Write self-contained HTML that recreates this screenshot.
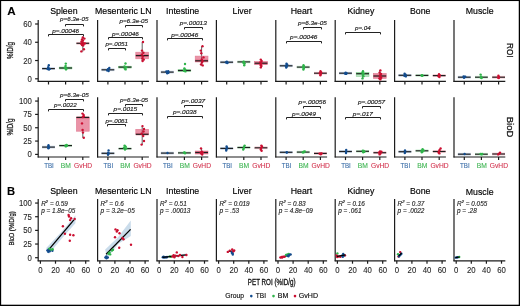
<!DOCTYPE html>
<html><head><meta charset="utf-8"><title>Figure</title>
<style>
html,body{margin:0;padding:0;background:#fff;}
body{width:520px;height:306px;overflow:hidden;}
svg{display:block;will-change:transform;font-family:"Liberation Sans", sans-serif;}
</style></head>
<body>
<svg width="520" height="306" viewBox="0 0 520 306">
<rect x="0" y="0" width="520" height="306" fill="#fff"/>
<rect x="0" y="0" width="520" height="1.05" fill="#000"/>
<rect x="0" y="0" width="1.15" height="306" fill="#000"/>
<rect x="518.75" y="0" width="1.25" height="306" fill="#000"/>
<rect x="0" y="304.7" width="520" height="1.3" fill="#000"/>
<text transform="translate(7.20,14.80) scale(1.04,1)" font-size="11.2" fill="#000" stroke="#000" stroke-width="0.1" text-anchor="start" font-weight="bold" >A</text>
<text transform="translate(7.00,195.20) scale(1.0,1)" font-size="11.2" fill="#000" stroke="#000" stroke-width="0.1" text-anchor="start" font-weight="bold" >B</text>
<text transform="translate(63.85,13.90) scale(0.905,1)" font-size="9.7" fill="#000" stroke="#000" stroke-width="0.17" text-anchor="middle" font-weight="normal" >Spleen</text>
<text transform="translate(63.85,194.30) scale(0.905,1)" font-size="9.7" fill="#000" stroke="#000" stroke-width="0.17" text-anchor="middle" font-weight="normal" >Spleen</text>
<text transform="translate(123.25,13.90) scale(0.905,1)" font-size="9.7" fill="#000" stroke="#000" stroke-width="0.17" text-anchor="middle" font-weight="normal" >Mesenteric LN</text>
<text transform="translate(123.25,194.30) scale(0.905,1)" font-size="9.7" fill="#000" stroke="#000" stroke-width="0.17" text-anchor="middle" font-weight="normal" >Mesenteric LN</text>
<text transform="translate(182.65,13.90) scale(0.905,1)" font-size="9.7" fill="#000" stroke="#000" stroke-width="0.17" text-anchor="middle" font-weight="normal" >Intestine</text>
<text transform="translate(182.65,194.30) scale(0.905,1)" font-size="9.7" fill="#000" stroke="#000" stroke-width="0.17" text-anchor="middle" font-weight="normal" >Intestine</text>
<text transform="translate(242.05,13.90) scale(0.905,1)" font-size="9.7" fill="#000" stroke="#000" stroke-width="0.17" text-anchor="middle" font-weight="normal" >Liver</text>
<text transform="translate(242.05,194.30) scale(0.905,1)" font-size="9.7" fill="#000" stroke="#000" stroke-width="0.17" text-anchor="middle" font-weight="normal" >Liver</text>
<text transform="translate(301.45,13.90) scale(0.905,1)" font-size="9.7" fill="#000" stroke="#000" stroke-width="0.17" text-anchor="middle" font-weight="normal" >Heart</text>
<text transform="translate(301.45,194.30) scale(0.905,1)" font-size="9.7" fill="#000" stroke="#000" stroke-width="0.17" text-anchor="middle" font-weight="normal" >Heart</text>
<text transform="translate(360.85,13.90) scale(0.905,1)" font-size="9.7" fill="#000" stroke="#000" stroke-width="0.17" text-anchor="middle" font-weight="normal" >Kidney</text>
<text transform="translate(360.85,194.30) scale(0.905,1)" font-size="9.7" fill="#000" stroke="#000" stroke-width="0.17" text-anchor="middle" font-weight="normal" >Kidney</text>
<text transform="translate(420.25,13.90) scale(0.905,1)" font-size="9.7" fill="#000" stroke="#000" stroke-width="0.17" text-anchor="middle" font-weight="normal" >Bone</text>
<text transform="translate(420.25,194.30) scale(0.905,1)" font-size="9.7" fill="#000" stroke="#000" stroke-width="0.17" text-anchor="middle" font-weight="normal" >Bone</text>
<text transform="translate(479.65,13.90) scale(0.905,1)" font-size="9.7" fill="#000" stroke="#000" stroke-width="0.17" text-anchor="middle" font-weight="normal" >Muscle</text>
<text transform="translate(479.65,195.30) scale(0.905,1)" font-size="9.7" fill="#000" stroke="#000" stroke-width="0.17" text-anchor="middle" font-weight="normal" >Muscle</text>
<line x1="38.20" y1="20.00" x2="38.20" y2="81.90" stroke="#1c1c1c" stroke-width="1.2" />
<line x1="37.70" y1="81.40" x2="89.50" y2="81.40" stroke="#1c1c1c" stroke-width="1.2" />
<line x1="48.50" y1="81.40" x2="48.50" y2="84.50" stroke="#1c1c1c" stroke-width="1.2" />
<line x1="65.60" y1="81.40" x2="65.60" y2="84.50" stroke="#1c1c1c" stroke-width="1.2" />
<line x1="82.80" y1="81.40" x2="82.80" y2="84.50" stroke="#1c1c1c" stroke-width="1.2" />
<line x1="97.60" y1="20.00" x2="97.60" y2="81.90" stroke="#1c1c1c" stroke-width="1.2" />
<line x1="97.10" y1="81.40" x2="148.90" y2="81.40" stroke="#1c1c1c" stroke-width="1.2" />
<line x1="107.90" y1="81.40" x2="107.90" y2="84.50" stroke="#1c1c1c" stroke-width="1.2" />
<line x1="125.00" y1="81.40" x2="125.00" y2="84.50" stroke="#1c1c1c" stroke-width="1.2" />
<line x1="142.20" y1="81.40" x2="142.20" y2="84.50" stroke="#1c1c1c" stroke-width="1.2" />
<line x1="157.00" y1="20.00" x2="157.00" y2="81.90" stroke="#1c1c1c" stroke-width="1.2" />
<line x1="156.50" y1="81.40" x2="208.30" y2="81.40" stroke="#1c1c1c" stroke-width="1.2" />
<line x1="167.30" y1="81.40" x2="167.30" y2="84.50" stroke="#1c1c1c" stroke-width="1.2" />
<line x1="184.40" y1="81.40" x2="184.40" y2="84.50" stroke="#1c1c1c" stroke-width="1.2" />
<line x1="201.60" y1="81.40" x2="201.60" y2="84.50" stroke="#1c1c1c" stroke-width="1.2" />
<line x1="216.40" y1="20.00" x2="216.40" y2="81.90" stroke="#1c1c1c" stroke-width="1.2" />
<line x1="215.90" y1="81.40" x2="267.70" y2="81.40" stroke="#1c1c1c" stroke-width="1.2" />
<line x1="226.70" y1="81.40" x2="226.70" y2="84.50" stroke="#1c1c1c" stroke-width="1.2" />
<line x1="243.80" y1="81.40" x2="243.80" y2="84.50" stroke="#1c1c1c" stroke-width="1.2" />
<line x1="261.00" y1="81.40" x2="261.00" y2="84.50" stroke="#1c1c1c" stroke-width="1.2" />
<line x1="275.80" y1="20.00" x2="275.80" y2="81.90" stroke="#1c1c1c" stroke-width="1.2" />
<line x1="275.30" y1="81.40" x2="327.10" y2="81.40" stroke="#1c1c1c" stroke-width="1.2" />
<line x1="286.10" y1="81.40" x2="286.10" y2="84.50" stroke="#1c1c1c" stroke-width="1.2" />
<line x1="303.20" y1="81.40" x2="303.20" y2="84.50" stroke="#1c1c1c" stroke-width="1.2" />
<line x1="320.40" y1="81.40" x2="320.40" y2="84.50" stroke="#1c1c1c" stroke-width="1.2" />
<line x1="335.20" y1="20.00" x2="335.20" y2="81.90" stroke="#1c1c1c" stroke-width="1.2" />
<line x1="334.70" y1="81.40" x2="386.50" y2="81.40" stroke="#1c1c1c" stroke-width="1.2" />
<line x1="345.50" y1="81.40" x2="345.50" y2="84.50" stroke="#1c1c1c" stroke-width="1.2" />
<line x1="362.60" y1="81.40" x2="362.60" y2="84.50" stroke="#1c1c1c" stroke-width="1.2" />
<line x1="379.80" y1="81.40" x2="379.80" y2="84.50" stroke="#1c1c1c" stroke-width="1.2" />
<line x1="394.60" y1="20.00" x2="394.60" y2="81.90" stroke="#1c1c1c" stroke-width="1.2" />
<line x1="394.10" y1="81.40" x2="445.90" y2="81.40" stroke="#1c1c1c" stroke-width="1.2" />
<line x1="404.90" y1="81.40" x2="404.90" y2="84.50" stroke="#1c1c1c" stroke-width="1.2" />
<line x1="422.00" y1="81.40" x2="422.00" y2="84.50" stroke="#1c1c1c" stroke-width="1.2" />
<line x1="439.20" y1="81.40" x2="439.20" y2="84.50" stroke="#1c1c1c" stroke-width="1.2" />
<line x1="454.00" y1="20.00" x2="454.00" y2="81.90" stroke="#1c1c1c" stroke-width="1.2" />
<line x1="453.50" y1="81.40" x2="505.30" y2="81.40" stroke="#1c1c1c" stroke-width="1.2" />
<line x1="464.30" y1="81.40" x2="464.30" y2="84.50" stroke="#1c1c1c" stroke-width="1.2" />
<line x1="481.40" y1="81.40" x2="481.40" y2="84.50" stroke="#1c1c1c" stroke-width="1.2" />
<line x1="498.60" y1="81.40" x2="498.60" y2="84.50" stroke="#1c1c1c" stroke-width="1.2" />
<line x1="38.20" y1="97.20" x2="38.20" y2="157.50" stroke="#1c1c1c" stroke-width="1.2" />
<line x1="37.70" y1="157.00" x2="89.50" y2="157.00" stroke="#1c1c1c" stroke-width="1.2" />
<line x1="48.50" y1="157.00" x2="48.50" y2="160.10" stroke="#1c1c1c" stroke-width="1.2" />
<line x1="65.60" y1="157.00" x2="65.60" y2="160.10" stroke="#1c1c1c" stroke-width="1.2" />
<line x1="82.80" y1="157.00" x2="82.80" y2="160.10" stroke="#1c1c1c" stroke-width="1.2" />
<line x1="97.60" y1="97.20" x2="97.60" y2="157.50" stroke="#1c1c1c" stroke-width="1.2" />
<line x1="97.10" y1="157.00" x2="148.90" y2="157.00" stroke="#1c1c1c" stroke-width="1.2" />
<line x1="107.90" y1="157.00" x2="107.90" y2="160.10" stroke="#1c1c1c" stroke-width="1.2" />
<line x1="125.00" y1="157.00" x2="125.00" y2="160.10" stroke="#1c1c1c" stroke-width="1.2" />
<line x1="142.20" y1="157.00" x2="142.20" y2="160.10" stroke="#1c1c1c" stroke-width="1.2" />
<line x1="157.00" y1="97.20" x2="157.00" y2="157.50" stroke="#1c1c1c" stroke-width="1.2" />
<line x1="156.50" y1="157.00" x2="208.30" y2="157.00" stroke="#1c1c1c" stroke-width="1.2" />
<line x1="167.30" y1="157.00" x2="167.30" y2="160.10" stroke="#1c1c1c" stroke-width="1.2" />
<line x1="184.40" y1="157.00" x2="184.40" y2="160.10" stroke="#1c1c1c" stroke-width="1.2" />
<line x1="201.60" y1="157.00" x2="201.60" y2="160.10" stroke="#1c1c1c" stroke-width="1.2" />
<line x1="216.40" y1="97.20" x2="216.40" y2="157.50" stroke="#1c1c1c" stroke-width="1.2" />
<line x1="215.90" y1="157.00" x2="267.70" y2="157.00" stroke="#1c1c1c" stroke-width="1.2" />
<line x1="226.70" y1="157.00" x2="226.70" y2="160.10" stroke="#1c1c1c" stroke-width="1.2" />
<line x1="243.80" y1="157.00" x2="243.80" y2="160.10" stroke="#1c1c1c" stroke-width="1.2" />
<line x1="261.00" y1="157.00" x2="261.00" y2="160.10" stroke="#1c1c1c" stroke-width="1.2" />
<line x1="275.80" y1="97.20" x2="275.80" y2="157.50" stroke="#1c1c1c" stroke-width="1.2" />
<line x1="275.30" y1="157.00" x2="327.10" y2="157.00" stroke="#1c1c1c" stroke-width="1.2" />
<line x1="286.10" y1="157.00" x2="286.10" y2="160.10" stroke="#1c1c1c" stroke-width="1.2" />
<line x1="303.20" y1="157.00" x2="303.20" y2="160.10" stroke="#1c1c1c" stroke-width="1.2" />
<line x1="320.40" y1="157.00" x2="320.40" y2="160.10" stroke="#1c1c1c" stroke-width="1.2" />
<line x1="335.20" y1="97.20" x2="335.20" y2="157.50" stroke="#1c1c1c" stroke-width="1.2" />
<line x1="334.70" y1="157.00" x2="386.50" y2="157.00" stroke="#1c1c1c" stroke-width="1.2" />
<line x1="345.50" y1="157.00" x2="345.50" y2="160.10" stroke="#1c1c1c" stroke-width="1.2" />
<line x1="362.60" y1="157.00" x2="362.60" y2="160.10" stroke="#1c1c1c" stroke-width="1.2" />
<line x1="379.80" y1="157.00" x2="379.80" y2="160.10" stroke="#1c1c1c" stroke-width="1.2" />
<line x1="394.60" y1="97.20" x2="394.60" y2="157.50" stroke="#1c1c1c" stroke-width="1.2" />
<line x1="394.10" y1="157.00" x2="445.90" y2="157.00" stroke="#1c1c1c" stroke-width="1.2" />
<line x1="404.90" y1="157.00" x2="404.90" y2="160.10" stroke="#1c1c1c" stroke-width="1.2" />
<line x1="422.00" y1="157.00" x2="422.00" y2="160.10" stroke="#1c1c1c" stroke-width="1.2" />
<line x1="439.20" y1="157.00" x2="439.20" y2="160.10" stroke="#1c1c1c" stroke-width="1.2" />
<line x1="454.00" y1="97.20" x2="454.00" y2="157.50" stroke="#1c1c1c" stroke-width="1.2" />
<line x1="453.50" y1="157.00" x2="505.30" y2="157.00" stroke="#1c1c1c" stroke-width="1.2" />
<line x1="464.30" y1="157.00" x2="464.30" y2="160.10" stroke="#1c1c1c" stroke-width="1.2" />
<line x1="481.40" y1="157.00" x2="481.40" y2="160.10" stroke="#1c1c1c" stroke-width="1.2" />
<line x1="498.60" y1="157.00" x2="498.60" y2="160.10" stroke="#1c1c1c" stroke-width="1.2" />
<line x1="35.10" y1="78.80" x2="38.20" y2="78.80" stroke="#1c1c1c" stroke-width="1.2" />
<text transform="translate(31.90,81.85) scale(0.905,1)" font-size="8.6" fill="#262626" stroke="#262626" stroke-width="0.1" text-anchor="end" font-weight="normal" >0</text>
<line x1="35.10" y1="60.53" x2="38.20" y2="60.53" stroke="#1c1c1c" stroke-width="1.2" />
<text transform="translate(31.90,63.58) scale(0.905,1)" font-size="8.6" fill="#262626" stroke="#262626" stroke-width="0.1" text-anchor="end" font-weight="normal" >20</text>
<line x1="35.10" y1="42.27" x2="38.20" y2="42.27" stroke="#1c1c1c" stroke-width="1.2" />
<text transform="translate(31.90,45.32) scale(0.905,1)" font-size="8.6" fill="#262626" stroke="#262626" stroke-width="0.1" text-anchor="end" font-weight="normal" >40</text>
<line x1="35.10" y1="24.00" x2="38.20" y2="24.00" stroke="#1c1c1c" stroke-width="1.2" />
<text transform="translate(31.90,27.05) scale(0.905,1)" font-size="8.6" fill="#262626" stroke="#262626" stroke-width="0.1" text-anchor="end" font-weight="normal" >60</text>
<line x1="35.10" y1="154.40" x2="38.20" y2="154.40" stroke="#1c1c1c" stroke-width="1.2" />
<text transform="translate(31.90,157.45) scale(0.905,1)" font-size="8.6" fill="#262626" stroke="#262626" stroke-width="0.1" text-anchor="end" font-weight="normal" >0</text>
<line x1="35.10" y1="141.07" x2="38.20" y2="141.07" stroke="#1c1c1c" stroke-width="1.2" />
<text transform="translate(31.90,144.12) scale(0.905,1)" font-size="8.6" fill="#262626" stroke="#262626" stroke-width="0.1" text-anchor="end" font-weight="normal" >25</text>
<line x1="35.10" y1="127.74" x2="38.20" y2="127.74" stroke="#1c1c1c" stroke-width="1.2" />
<text transform="translate(31.90,130.79) scale(0.905,1)" font-size="8.6" fill="#262626" stroke="#262626" stroke-width="0.1" text-anchor="end" font-weight="normal" >50</text>
<line x1="35.10" y1="114.40" x2="38.20" y2="114.40" stroke="#1c1c1c" stroke-width="1.2" />
<text transform="translate(31.90,117.45) scale(0.905,1)" font-size="8.6" fill="#262626" stroke="#262626" stroke-width="0.1" text-anchor="end" font-weight="normal" >75</text>
<line x1="35.10" y1="101.07" x2="38.20" y2="101.07" stroke="#1c1c1c" stroke-width="1.2" />
<text transform="translate(31.90,104.12) scale(0.905,1)" font-size="8.6" fill="#262626" stroke="#262626" stroke-width="0.1" text-anchor="end" font-weight="normal" >100</text>
<text x="0" y="0" transform="translate(10.90,50.50) rotate(-90)" font-size="8.2" fill="#111" stroke="#111" stroke-width="0.25" text-anchor="middle" dominant-baseline="central" font-weight="normal" textLength="17.00" lengthAdjust="spacingAndGlyphs">%ID/g</text>
<text x="0" y="0" transform="translate(10.90,127.10) rotate(-90)" font-size="8.2" fill="#111" stroke="#111" stroke-width="0.25" text-anchor="middle" dominant-baseline="central" font-weight="normal" textLength="17.00" lengthAdjust="spacingAndGlyphs">%ID/g</text>
<text x="0" y="0" transform="translate(11.50,228.40) rotate(-90)" font-size="8.0" fill="#111" stroke="#111" stroke-width="0.25" text-anchor="middle" dominant-baseline="central" font-weight="normal" textLength="34.00" lengthAdjust="spacingAndGlyphs">BioD (%ID/g)</text>
<text x="0" y="0" transform="translate(510.10,50.30) rotate(90)" font-size="9" fill="#111" stroke="#111" stroke-width="0.25" text-anchor="middle" dominant-baseline="central" font-weight="normal" textLength="14.50" lengthAdjust="spacingAndGlyphs">ROI</text>
<text x="0" y="0" transform="translate(509.80,127.00) rotate(90)" font-size="9" fill="#111" stroke="#111" stroke-width="0.25" text-anchor="middle" dominant-baseline="central" font-weight="normal" textLength="20.50" lengthAdjust="spacingAndGlyphs">BioD</text>
<text x="49.00" y="167.80" font-size="6.7" fill="#3b6ea8" stroke="#3b6ea8" stroke-width="0.1" text-anchor="middle" font-weight="normal" textLength="9.60" lengthAdjust="spacingAndGlyphs" >TBI</text>
<text x="65.90" y="167.80" font-size="6.7" fill="#3fb553" stroke="#3fb553" stroke-width="0.1" text-anchor="middle" font-weight="normal" textLength="10.10" lengthAdjust="spacingAndGlyphs" >BM</text>
<text x="83.10" y="167.80" font-size="6.7" fill="#d3344f" stroke="#d3344f" stroke-width="0.1" text-anchor="middle" font-weight="normal" textLength="18.20" lengthAdjust="spacingAndGlyphs" >GvHD</text>
<text x="108.40" y="167.80" font-size="6.7" fill="#3b6ea8" stroke="#3b6ea8" stroke-width="0.1" text-anchor="middle" font-weight="normal" textLength="9.60" lengthAdjust="spacingAndGlyphs" >TBI</text>
<text x="125.30" y="167.80" font-size="6.7" fill="#3fb553" stroke="#3fb553" stroke-width="0.1" text-anchor="middle" font-weight="normal" textLength="10.10" lengthAdjust="spacingAndGlyphs" >BM</text>
<text x="142.50" y="167.80" font-size="6.7" fill="#d3344f" stroke="#d3344f" stroke-width="0.1" text-anchor="middle" font-weight="normal" textLength="18.20" lengthAdjust="spacingAndGlyphs" >GvHD</text>
<text x="167.80" y="167.80" font-size="6.7" fill="#3b6ea8" stroke="#3b6ea8" stroke-width="0.1" text-anchor="middle" font-weight="normal" textLength="9.60" lengthAdjust="spacingAndGlyphs" >TBI</text>
<text x="184.70" y="167.80" font-size="6.7" fill="#3fb553" stroke="#3fb553" stroke-width="0.1" text-anchor="middle" font-weight="normal" textLength="10.10" lengthAdjust="spacingAndGlyphs" >BM</text>
<text x="201.90" y="167.80" font-size="6.7" fill="#d3344f" stroke="#d3344f" stroke-width="0.1" text-anchor="middle" font-weight="normal" textLength="18.20" lengthAdjust="spacingAndGlyphs" >GvHD</text>
<text x="227.20" y="167.80" font-size="6.7" fill="#3b6ea8" stroke="#3b6ea8" stroke-width="0.1" text-anchor="middle" font-weight="normal" textLength="9.60" lengthAdjust="spacingAndGlyphs" >TBI</text>
<text x="244.10" y="167.80" font-size="6.7" fill="#3fb553" stroke="#3fb553" stroke-width="0.1" text-anchor="middle" font-weight="normal" textLength="10.10" lengthAdjust="spacingAndGlyphs" >BM</text>
<text x="261.30" y="167.80" font-size="6.7" fill="#d3344f" stroke="#d3344f" stroke-width="0.1" text-anchor="middle" font-weight="normal" textLength="18.20" lengthAdjust="spacingAndGlyphs" >GvHD</text>
<text x="286.60" y="167.80" font-size="6.7" fill="#3b6ea8" stroke="#3b6ea8" stroke-width="0.1" text-anchor="middle" font-weight="normal" textLength="9.60" lengthAdjust="spacingAndGlyphs" >TBI</text>
<text x="303.50" y="167.80" font-size="6.7" fill="#3fb553" stroke="#3fb553" stroke-width="0.1" text-anchor="middle" font-weight="normal" textLength="10.10" lengthAdjust="spacingAndGlyphs" >BM</text>
<text x="320.70" y="167.80" font-size="6.7" fill="#d3344f" stroke="#d3344f" stroke-width="0.1" text-anchor="middle" font-weight="normal" textLength="18.20" lengthAdjust="spacingAndGlyphs" >GvHD</text>
<text x="346.00" y="167.80" font-size="6.7" fill="#3b6ea8" stroke="#3b6ea8" stroke-width="0.1" text-anchor="middle" font-weight="normal" textLength="9.60" lengthAdjust="spacingAndGlyphs" >TBI</text>
<text x="362.90" y="167.80" font-size="6.7" fill="#3fb553" stroke="#3fb553" stroke-width="0.1" text-anchor="middle" font-weight="normal" textLength="10.10" lengthAdjust="spacingAndGlyphs" >BM</text>
<text x="380.10" y="167.80" font-size="6.7" fill="#d3344f" stroke="#d3344f" stroke-width="0.1" text-anchor="middle" font-weight="normal" textLength="18.20" lengthAdjust="spacingAndGlyphs" >GvHD</text>
<text x="405.40" y="167.80" font-size="6.7" fill="#3b6ea8" stroke="#3b6ea8" stroke-width="0.1" text-anchor="middle" font-weight="normal" textLength="9.60" lengthAdjust="spacingAndGlyphs" >TBI</text>
<text x="422.30" y="167.80" font-size="6.7" fill="#3fb553" stroke="#3fb553" stroke-width="0.1" text-anchor="middle" font-weight="normal" textLength="10.10" lengthAdjust="spacingAndGlyphs" >BM</text>
<text x="439.50" y="167.80" font-size="6.7" fill="#d3344f" stroke="#d3344f" stroke-width="0.1" text-anchor="middle" font-weight="normal" textLength="18.20" lengthAdjust="spacingAndGlyphs" >GvHD</text>
<text x="464.80" y="167.80" font-size="6.7" fill="#3b6ea8" stroke="#3b6ea8" stroke-width="0.1" text-anchor="middle" font-weight="normal" textLength="9.60" lengthAdjust="spacingAndGlyphs" >TBI</text>
<text x="481.70" y="167.80" font-size="6.7" fill="#3fb553" stroke="#3fb553" stroke-width="0.1" text-anchor="middle" font-weight="normal" textLength="10.10" lengthAdjust="spacingAndGlyphs" >BM</text>
<text x="498.90" y="167.80" font-size="6.7" fill="#d3344f" stroke="#d3344f" stroke-width="0.1" text-anchor="middle" font-weight="normal" textLength="18.20" lengthAdjust="spacingAndGlyphs" >GvHD</text>
<rect x="42.10" y="67.30" width="12.8" height="2.6" fill="rgba(18,76,142,0.28)"/>
<line x1="42.10" y1="68.60" x2="54.90" y2="68.60" stroke="#1e1e1e" stroke-width="1.15" />
<rect x="59.20" y="67.20" width="12.8" height="1.60" fill="rgba(60,180,80,0.35)" stroke="#8fd39b" stroke-width="0.6"/>
<rect x="59.20" y="66.70" width="12.8" height="2.6" fill="rgba(47,180,74,0.28)"/>
<line x1="59.20" y1="68.00" x2="72.00" y2="68.00" stroke="#1e1e1e" stroke-width="1.15" />
<line x1="82.80" y1="36.80" x2="82.80" y2="51.50" stroke="#1e1e1e" stroke-width="0.7" />
<rect x="76.40" y="42.00" width="12.8" height="2.6" fill="rgba(203,15,49,0.28)"/>
<line x1="76.40" y1="43.30" x2="89.20" y2="43.30" stroke="#1e1e1e" stroke-width="1.15" />
<circle cx="48.50" cy="68.60" r="1.2" fill="#124c8e"/>
<circle cx="47.60" cy="69.00" r="1.2" fill="#124c8e"/>
<circle cx="49.60" cy="68.90" r="1.2" fill="#124c8e"/>
<circle cx="48.80" cy="65.30" r="1.2" fill="#124c8e"/>
<circle cx="48.20" cy="67.30" r="1.2" fill="#124c8e"/>
<circle cx="49.00" cy="69.60" r="1.2" fill="#124c8e"/>
<circle cx="65.60" cy="68.20" r="1.2" fill="#2fb44a"/>
<circle cx="64.80" cy="67.60" r="1.2" fill="#2fb44a"/>
<circle cx="66.40" cy="68.60" r="1.2" fill="#2fb44a"/>
<circle cx="65.80" cy="63.60" r="1.2" fill="#2fb44a"/>
<circle cx="65.60" cy="66.00" r="1.2" fill="#2fb44a"/>
<circle cx="66.00" cy="69.40" r="1.2" fill="#2fb44a"/>
<circle cx="82.80" cy="37.40" r="1.2" fill="#cb0f31"/>
<circle cx="82.00" cy="39.40" r="1.2" fill="#cb0f31"/>
<circle cx="81.50" cy="41.50" r="1.2" fill="#cb0f31"/>
<circle cx="82.60" cy="42.60" r="1.2" fill="#cb0f31"/>
<circle cx="83.60" cy="44.00" r="1.2" fill="#cb0f31"/>
<circle cx="82.00" cy="45.00" r="1.2" fill="#cb0f31"/>
<circle cx="83.00" cy="40.60" r="1.2" fill="#cb0f31"/>
<circle cx="84.40" cy="38.60" r="1.2" fill="#cb0f31"/>
<circle cx="84.80" cy="43.40" r="1.2" fill="#cb0f31"/>
<circle cx="81.20" cy="43.80" r="1.2" fill="#cb0f31"/>
<circle cx="83.20" cy="45.60" r="1.2" fill="#cb0f31"/>
<circle cx="83.90" cy="49.20" r="1.2" fill="#cb0f31"/>
<circle cx="81.40" cy="51.40" r="1.2" fill="#cb0f31"/>
<rect x="101.50" y="68.50" width="12.8" height="2.6" fill="rgba(18,76,142,0.28)"/>
<line x1="101.50" y1="69.80" x2="114.30" y2="69.80" stroke="#1e1e1e" stroke-width="1.15" />
<rect x="118.60" y="66.50" width="12.8" height="1.40" fill="rgba(60,180,80,0.35)" stroke="#8fd39b" stroke-width="0.6"/>
<rect x="118.60" y="65.80" width="12.8" height="2.6" fill="rgba(47,180,74,0.28)"/>
<line x1="118.60" y1="67.10" x2="131.40" y2="67.10" stroke="#1e1e1e" stroke-width="1.15" />
<line x1="142.20" y1="42.00" x2="142.20" y2="61.00" stroke="#1e1e1e" stroke-width="0.7" />
<rect x="135.80" y="52.20" width="12.8" height="6.60" fill="rgba(214,40,80,0.5)" stroke="#e07a92" stroke-width="0.6"/>
<rect x="135.80" y="54.30" width="12.8" height="2.6" fill="rgba(203,15,49,0.28)"/>
<line x1="135.80" y1="55.60" x2="148.60" y2="55.60" stroke="#1e1e1e" stroke-width="1.15" />
<circle cx="108.10" cy="69.80" r="1.2" fill="#124c8e"/>
<circle cx="109.30" cy="68.00" r="1.2" fill="#124c8e"/>
<circle cx="107.20" cy="70.40" r="1.2" fill="#124c8e"/>
<circle cx="108.60" cy="71.00" r="1.2" fill="#124c8e"/>
<circle cx="108.00" cy="69.20" r="1.2" fill="#124c8e"/>
<circle cx="125.50" cy="63.50" r="1.2" fill="#2fb44a"/>
<circle cx="124.50" cy="66.40" r="1.2" fill="#2fb44a"/>
<circle cx="125.60" cy="69.40" r="1.2" fill="#2fb44a"/>
<circle cx="124.80" cy="68.60" r="1.2" fill="#2fb44a"/>
<circle cx="126.20" cy="67.20" r="1.2" fill="#2fb44a"/>
<circle cx="143.00" cy="42.00" r="1.2" fill="#cb0f31"/>
<circle cx="142.00" cy="50.60" r="1.2" fill="#cb0f31"/>
<circle cx="143.40" cy="52.80" r="1.2" fill="#cb0f31"/>
<circle cx="141.80" cy="54.60" r="1.2" fill="#cb0f31"/>
<circle cx="143.00" cy="56.40" r="1.2" fill="#cb0f31"/>
<circle cx="142.40" cy="58.40" r="1.2" fill="#cb0f31"/>
<circle cx="143.80" cy="59.60" r="1.2" fill="#cb0f31"/>
<circle cx="142.60" cy="61.00" r="1.2" fill="#cb0f31"/>
<rect x="160.90" y="70.80" width="12.8" height="2.6" fill="rgba(18,76,142,0.28)"/>
<line x1="160.90" y1="72.10" x2="173.70" y2="72.10" stroke="#1e1e1e" stroke-width="1.15" />
<rect x="178.00" y="69.80" width="12.8" height="1.40" fill="rgba(60,180,80,0.35)" stroke="#8fd39b" stroke-width="0.6"/>
<rect x="178.00" y="69.20" width="12.8" height="2.6" fill="rgba(47,180,74,0.28)"/>
<line x1="178.00" y1="70.50" x2="190.80" y2="70.50" stroke="#1e1e1e" stroke-width="1.15" />
<line x1="201.60" y1="46.20" x2="201.60" y2="65.50" stroke="#1e1e1e" stroke-width="0.7" />
<rect x="195.20" y="56.10" width="12.8" height="5.80" fill="rgba(214,40,80,0.5)" stroke="#e07a92" stroke-width="0.6"/>
<rect x="195.20" y="59.50" width="12.8" height="2.6" fill="rgba(203,15,49,0.28)"/>
<line x1="195.20" y1="60.80" x2="208.00" y2="60.80" stroke="#1e1e1e" stroke-width="1.15" />
<circle cx="167.50" cy="72.10" r="1.2" fill="#124c8e"/>
<circle cx="166.40" cy="71.40" r="1.2" fill="#124c8e"/>
<circle cx="168.40" cy="72.80" r="1.2" fill="#124c8e"/>
<circle cx="167.20" cy="73.20" r="1.2" fill="#124c8e"/>
<circle cx="168.20" cy="71.20" r="1.2" fill="#124c8e"/>
<circle cx="185.00" cy="64.00" r="1.2" fill="#2fb44a"/>
<circle cx="184.40" cy="68.40" r="1.2" fill="#2fb44a"/>
<circle cx="185.20" cy="69.60" r="1.2" fill="#2fb44a"/>
<circle cx="184.00" cy="70.80" r="1.2" fill="#2fb44a"/>
<circle cx="185.40" cy="71.40" r="1.2" fill="#2fb44a"/>
<circle cx="202.50" cy="46.20" r="1.2" fill="#cb0f31"/>
<circle cx="200.80" cy="50.60" r="1.2" fill="#cb0f31"/>
<circle cx="201.30" cy="53.20" r="1.2" fill="#cb0f31"/>
<circle cx="203.50" cy="57.40" r="1.2" fill="#cb0f31"/>
<circle cx="201.80" cy="59.40" r="1.2" fill="#cb0f31"/>
<circle cx="202.60" cy="61.00" r="1.2" fill="#cb0f31"/>
<circle cx="202.00" cy="62.60" r="1.2" fill="#cb0f31"/>
<circle cx="201.00" cy="64.40" r="1.2" fill="#cb0f31"/>
<circle cx="202.70" cy="65.40" r="1.2" fill="#cb0f31"/>
<rect x="220.30" y="60.90" width="12.8" height="2.6" fill="rgba(18,76,142,0.28)"/>
<line x1="220.30" y1="62.20" x2="233.10" y2="62.20" stroke="#1e1e1e" stroke-width="1.15" />
<rect x="237.40" y="60.60" width="12.8" height="2.6" fill="rgba(47,180,74,0.28)"/>
<line x1="237.40" y1="61.90" x2="250.20" y2="61.90" stroke="#1e1e1e" stroke-width="1.15" />
<rect x="254.60" y="61.60" width="12.8" height="3.00" fill="rgba(214,40,80,0.5)" stroke="#e07a92" stroke-width="0.6"/>
<rect x="254.60" y="61.90" width="12.8" height="2.6" fill="rgba(203,15,49,0.28)"/>
<line x1="254.60" y1="63.20" x2="267.40" y2="63.20" stroke="#1e1e1e" stroke-width="1.15" />
<circle cx="226.80" cy="61.60" r="1.2" fill="#124c8e"/>
<circle cx="227.60" cy="62.60" r="1.2" fill="#124c8e"/>
<circle cx="226.00" cy="62.40" r="1.2" fill="#124c8e"/>
<circle cx="227.20" cy="63.00" r="1.2" fill="#124c8e"/>
<circle cx="244.00" cy="62.00" r="1.2" fill="#2fb44a"/>
<circle cx="243.40" cy="62.80" r="1.2" fill="#2fb44a"/>
<circle cx="244.60" cy="63.60" r="1.2" fill="#2fb44a"/>
<circle cx="244.20" cy="65.20" r="1.2" fill="#2fb44a"/>
<circle cx="243.60" cy="61.80" r="1.2" fill="#2fb44a"/>
<circle cx="260.80" cy="59.60" r="1.2" fill="#cb0f31"/>
<circle cx="261.60" cy="61.00" r="1.2" fill="#cb0f31"/>
<circle cx="260.20" cy="62.40" r="1.2" fill="#cb0f31"/>
<circle cx="261.20" cy="63.60" r="1.2" fill="#cb0f31"/>
<circle cx="260.60" cy="65.00" r="1.2" fill="#cb0f31"/>
<circle cx="261.40" cy="66.00" r="1.2" fill="#cb0f31"/>
<circle cx="260.80" cy="67.40" r="1.2" fill="#cb0f31"/>
<rect x="279.70" y="64.50" width="12.8" height="2.6" fill="rgba(18,76,142,0.28)"/>
<line x1="279.70" y1="65.80" x2="292.50" y2="65.80" stroke="#1e1e1e" stroke-width="1.15" />
<rect x="296.80" y="65.80" width="12.8" height="2.6" fill="rgba(47,180,74,0.28)"/>
<line x1="296.80" y1="67.10" x2="309.60" y2="67.10" stroke="#1e1e1e" stroke-width="1.15" />
<rect x="314.00" y="71.90" width="12.8" height="2.6" fill="rgba(203,15,49,0.28)"/>
<line x1="314.00" y1="73.20" x2="326.80" y2="73.20" stroke="#1e1e1e" stroke-width="1.15" />
<circle cx="286.50" cy="63.80" r="1.2" fill="#124c8e"/>
<circle cx="287.20" cy="64.80" r="1.2" fill="#124c8e"/>
<circle cx="285.80" cy="65.80" r="1.2" fill="#124c8e"/>
<circle cx="286.80" cy="66.60" r="1.2" fill="#124c8e"/>
<circle cx="286.20" cy="67.60" r="1.2" fill="#124c8e"/>
<circle cx="303.50" cy="65.20" r="1.2" fill="#2fb44a"/>
<circle cx="304.00" cy="66.40" r="1.2" fill="#2fb44a"/>
<circle cx="303.00" cy="67.20" r="1.2" fill="#2fb44a"/>
<circle cx="303.80" cy="68.20" r="1.2" fill="#2fb44a"/>
<circle cx="303.40" cy="69.60" r="1.2" fill="#2fb44a"/>
<circle cx="320.50" cy="71.20" r="1.2" fill="#cb0f31"/>
<circle cx="321.20" cy="72.40" r="1.2" fill="#cb0f31"/>
<circle cx="319.80" cy="73.20" r="1.2" fill="#cb0f31"/>
<circle cx="320.80" cy="74.00" r="1.2" fill="#cb0f31"/>
<circle cx="320.40" cy="75.20" r="1.2" fill="#cb0f31"/>
<rect x="339.10" y="71.90" width="12.8" height="2.6" fill="rgba(18,76,142,0.28)"/>
<line x1="339.10" y1="73.20" x2="351.90" y2="73.20" stroke="#1e1e1e" stroke-width="1.15" />
<line x1="362.60" y1="70.80" x2="362.60" y2="78.60" stroke="#1e1e1e" stroke-width="0.7" />
<rect x="356.20" y="72.60" width="12.8" height="3.90" fill="rgba(60,180,80,0.35)" stroke="#8fd39b" stroke-width="0.6"/>
<rect x="356.20" y="72.40" width="12.8" height="2.6" fill="rgba(47,180,74,0.28)"/>
<line x1="356.20" y1="73.70" x2="369.00" y2="73.70" stroke="#1e1e1e" stroke-width="1.15" />
<line x1="379.80" y1="70.20" x2="379.80" y2="79.60" stroke="#1e1e1e" stroke-width="0.7" />
<rect x="373.40" y="73.40" width="12.8" height="5.00" fill="rgba(214,40,80,0.5)" stroke="#e07a92" stroke-width="0.6"/>
<rect x="373.40" y="74.70" width="12.8" height="2.6" fill="rgba(203,15,49,0.28)"/>
<line x1="373.40" y1="76.00" x2="386.20" y2="76.00" stroke="#1e1e1e" stroke-width="1.15" />
<circle cx="345.70" cy="72.60" r="1.2" fill="#124c8e"/>
<circle cx="346.60" cy="73.20" r="1.2" fill="#124c8e"/>
<circle cx="345.00" cy="73.60" r="1.2" fill="#124c8e"/>
<circle cx="346.00" cy="73.90" r="1.2" fill="#124c8e"/>
<circle cx="363.00" cy="71.20" r="1.2" fill="#2fb44a"/>
<circle cx="362.40" cy="72.80" r="1.2" fill="#2fb44a"/>
<circle cx="363.60" cy="73.80" r="1.2" fill="#2fb44a"/>
<circle cx="362.80" cy="75.00" r="1.2" fill="#2fb44a"/>
<circle cx="363.40" cy="76.20" r="1.2" fill="#2fb44a"/>
<circle cx="362.50" cy="78.40" r="1.2" fill="#2fb44a"/>
<circle cx="380.40" cy="70.40" r="1.2" fill="#cb0f31"/>
<circle cx="379.60" cy="72.60" r="1.2" fill="#cb0f31"/>
<circle cx="381.00" cy="74.00" r="1.2" fill="#cb0f31"/>
<circle cx="379.80" cy="75.60" r="1.2" fill="#cb0f31"/>
<circle cx="380.60" cy="76.80" r="1.2" fill="#cb0f31"/>
<circle cx="381.20" cy="77.80" r="1.2" fill="#cb0f31"/>
<circle cx="379.40" cy="78.40" r="1.2" fill="#cb0f31"/>
<circle cx="380.40" cy="79.40" r="1.2" fill="#cb0f31"/>
<rect x="398.50" y="74.00" width="12.8" height="2.6" fill="rgba(18,76,142,0.28)"/>
<line x1="398.50" y1="75.30" x2="411.30" y2="75.30" stroke="#1e1e1e" stroke-width="1.15" />
<rect x="415.60" y="74.10" width="12.8" height="2.6" fill="rgba(47,180,74,0.28)"/>
<line x1="415.60" y1="75.40" x2="428.40" y2="75.40" stroke="#1e1e1e" stroke-width="1.15" />
<rect x="432.80" y="74.30" width="12.8" height="2.6" fill="rgba(203,15,49,0.28)"/>
<line x1="432.80" y1="75.60" x2="445.60" y2="75.60" stroke="#1e1e1e" stroke-width="1.15" />
<circle cx="404.60" cy="73.80" r="1.2" fill="#124c8e"/>
<circle cx="405.60" cy="74.80" r="1.2" fill="#124c8e"/>
<circle cx="404.40" cy="75.80" r="1.2" fill="#124c8e"/>
<circle cx="405.80" cy="76.40" r="1.2" fill="#124c8e"/>
<circle cx="422.00" cy="75.20" r="1.2" fill="#2fb44a"/>
<circle cx="422.40" cy="75.80" r="1.2" fill="#2fb44a"/>
<circle cx="421.60" cy="75.60" r="1.2" fill="#2fb44a"/>
<circle cx="439.00" cy="74.20" r="1.2" fill="#cb0f31"/>
<circle cx="439.60" cy="75.20" r="1.2" fill="#cb0f31"/>
<circle cx="438.60" cy="76.20" r="1.2" fill="#cb0f31"/>
<circle cx="439.40" cy="77.00" r="1.2" fill="#cb0f31"/>
<rect x="457.90" y="75.90" width="12.8" height="2.6" fill="rgba(18,76,142,0.28)"/>
<line x1="457.90" y1="77.20" x2="470.70" y2="77.20" stroke="#1e1e1e" stroke-width="1.15" />
<rect x="475.00" y="75.90" width="12.8" height="2.6" fill="rgba(47,180,74,0.28)"/>
<line x1="475.00" y1="77.20" x2="487.80" y2="77.20" stroke="#1e1e1e" stroke-width="1.15" />
<rect x="492.20" y="75.90" width="12.8" height="2.6" fill="rgba(203,15,49,0.28)"/>
<line x1="492.20" y1="77.20" x2="505.00" y2="77.20" stroke="#1e1e1e" stroke-width="1.15" />
<circle cx="463.60" cy="76.40" r="1.2" fill="#124c8e"/>
<circle cx="464.80" cy="77.00" r="1.2" fill="#124c8e"/>
<circle cx="464.00" cy="77.80" r="1.2" fill="#124c8e"/>
<circle cx="465.20" cy="76.80" r="1.2" fill="#124c8e"/>
<circle cx="480.60" cy="74.60" r="1.2" fill="#2fb44a"/>
<circle cx="481.20" cy="76.60" r="1.2" fill="#2fb44a"/>
<circle cx="481.60" cy="78.00" r="1.2" fill="#2fb44a"/>
<circle cx="480.80" cy="77.60" r="1.2" fill="#2fb44a"/>
<circle cx="498.40" cy="75.80" r="1.2" fill="#cb0f31"/>
<circle cx="499.00" cy="77.00" r="1.2" fill="#cb0f31"/>
<circle cx="498.00" cy="77.60" r="1.2" fill="#cb0f31"/>
<circle cx="498.80" cy="78.00" r="1.2" fill="#cb0f31"/>
<rect x="42.10" y="145.80" width="12.8" height="2.6" fill="rgba(18,76,142,0.28)"/>
<line x1="42.10" y1="147.10" x2="54.90" y2="147.10" stroke="#1e1e1e" stroke-width="1.15" />
<rect x="59.20" y="144.30" width="12.8" height="2.6" fill="rgba(47,180,74,0.28)"/>
<line x1="59.20" y1="145.60" x2="72.00" y2="145.60" stroke="#1e1e1e" stroke-width="1.15" />
<line x1="82.80" y1="131.20" x2="82.80" y2="137.80" stroke="#1e1e1e" stroke-width="0.7" />
<rect x="76.40" y="117.40" width="12.8" height="13.80" fill="rgba(214,40,80,0.5)" stroke="#e07a92" stroke-width="0.6"/>
<rect x="76.40" y="116.10" width="12.8" height="2.6" fill="rgba(203,15,49,0.28)"/>
<line x1="76.40" y1="117.40" x2="89.20" y2="117.40" stroke="#1e1e1e" stroke-width="1.15" />
<circle cx="48.50" cy="145.20" r="1.2" fill="#124c8e"/>
<circle cx="48.20" cy="146.80" r="1.2" fill="#124c8e"/>
<circle cx="49.00" cy="147.40" r="1.2" fill="#124c8e"/>
<circle cx="48.40" cy="148.30" r="1.2" fill="#124c8e"/>
<circle cx="65.60" cy="145.40" r="1.2" fill="#2fb44a"/>
<circle cx="66.60" cy="145.00" r="1.2" fill="#2fb44a"/>
<circle cx="67.00" cy="145.80" r="1.2" fill="#2fb44a"/>
<circle cx="65.80" cy="146.40" r="1.2" fill="#2fb44a"/>
<circle cx="82.50" cy="113.60" r="1.2" fill="#cb0f31"/>
<circle cx="83.60" cy="115.00" r="1.2" fill="#cb0f31"/>
<circle cx="82.80" cy="117.00" r="1.2" fill="#cb0f31"/>
<circle cx="83.80" cy="116.40" r="1.2" fill="#cb0f31"/>
<circle cx="82.00" cy="123.40" r="1.2" fill="#cb0f31"/>
<circle cx="82.60" cy="130.00" r="1.2" fill="#cb0f31"/>
<circle cx="83.00" cy="132.60" r="1.2" fill="#cb0f31"/>
<circle cx="83.80" cy="137.80" r="1.2" fill="#cb0f31"/>
<rect x="101.50" y="152.00" width="12.8" height="2.6" fill="rgba(18,76,142,0.28)"/>
<line x1="101.50" y1="153.30" x2="114.30" y2="153.30" stroke="#1e1e1e" stroke-width="1.15" />
<rect x="118.60" y="147.30" width="12.8" height="2.6" fill="rgba(47,180,74,0.28)"/>
<line x1="118.60" y1="148.60" x2="131.40" y2="148.60" stroke="#1e1e1e" stroke-width="1.15" />
<line x1="142.20" y1="126.10" x2="142.20" y2="144.60" stroke="#1e1e1e" stroke-width="0.7" />
<rect x="135.80" y="129.30" width="12.8" height="5.00" fill="rgba(214,40,80,0.5)" stroke="#e07a92" stroke-width="0.6"/>
<rect x="135.80" y="133.00" width="12.8" height="2.6" fill="rgba(203,15,49,0.28)"/>
<line x1="135.80" y1="134.30" x2="148.60" y2="134.30" stroke="#1e1e1e" stroke-width="1.15" />
<circle cx="108.60" cy="150.40" r="1.2" fill="#124c8e"/>
<circle cx="108.20" cy="152.60" r="1.2" fill="#124c8e"/>
<circle cx="108.80" cy="153.60" r="1.2" fill="#124c8e"/>
<circle cx="108.00" cy="154.80" r="1.2" fill="#124c8e"/>
<circle cx="124.60" cy="145.60" r="1.2" fill="#2fb44a"/>
<circle cx="125.60" cy="146.60" r="1.2" fill="#2fb44a"/>
<circle cx="124.00" cy="147.80" r="1.2" fill="#2fb44a"/>
<circle cx="126.20" cy="148.40" r="1.2" fill="#2fb44a"/>
<circle cx="125.00" cy="149.60" r="1.2" fill="#2fb44a"/>
<circle cx="142.50" cy="126.10" r="1.2" fill="#cb0f31"/>
<circle cx="144.00" cy="129.00" r="1.2" fill="#cb0f31"/>
<circle cx="143.50" cy="131.50" r="1.2" fill="#cb0f31"/>
<circle cx="141.60" cy="133.80" r="1.2" fill="#cb0f31"/>
<circle cx="143.20" cy="136.00" r="1.2" fill="#cb0f31"/>
<circle cx="144.00" cy="141.00" r="1.2" fill="#cb0f31"/>
<circle cx="141.60" cy="144.60" r="1.2" fill="#cb0f31"/>
<rect x="160.90" y="151.80" width="12.8" height="2.6" fill="rgba(18,76,142,0.28)"/>
<line x1="160.90" y1="153.10" x2="173.70" y2="153.10" stroke="#1e1e1e" stroke-width="1.15" />
<rect x="178.00" y="151.60" width="12.8" height="2.6" fill="rgba(47,180,74,0.28)"/>
<line x1="178.00" y1="152.90" x2="190.80" y2="152.90" stroke="#1e1e1e" stroke-width="1.15" />
<line x1="201.60" y1="148.40" x2="201.60" y2="155.00" stroke="#1e1e1e" stroke-width="0.7" />
<rect x="195.20" y="151.00" width="12.8" height="3.00" fill="rgba(214,40,80,0.5)" stroke="#e07a92" stroke-width="0.6"/>
<rect x="195.20" y="151.20" width="12.8" height="2.6" fill="rgba(203,15,49,0.28)"/>
<line x1="195.20" y1="152.50" x2="208.00" y2="152.50" stroke="#1e1e1e" stroke-width="1.15" />
<circle cx="167.50" cy="153.00" r="1.2" fill="#124c8e"/>
<circle cx="184.00" cy="152.60" r="1.2" fill="#2fb44a"/>
<circle cx="185.00" cy="153.20" r="1.2" fill="#2fb44a"/>
<circle cx="184.60" cy="152.40" r="1.2" fill="#2fb44a"/>
<circle cx="201.00" cy="148.40" r="1.2" fill="#cb0f31"/>
<circle cx="201.80" cy="151.60" r="1.2" fill="#cb0f31"/>
<circle cx="202.60" cy="152.60" r="1.2" fill="#cb0f31"/>
<circle cx="201.20" cy="153.60" r="1.2" fill="#cb0f31"/>
<circle cx="202.20" cy="154.60" r="1.2" fill="#cb0f31"/>
<circle cx="200.80" cy="152.80" r="1.2" fill="#cb0f31"/>
<rect x="220.30" y="147.10" width="12.8" height="2.6" fill="rgba(18,76,142,0.28)"/>
<line x1="220.30" y1="148.40" x2="233.10" y2="148.40" stroke="#1e1e1e" stroke-width="1.15" />
<rect x="237.40" y="146.20" width="12.8" height="2.6" fill="rgba(47,180,74,0.28)"/>
<line x1="237.40" y1="147.50" x2="250.20" y2="147.50" stroke="#1e1e1e" stroke-width="1.15" />
<rect x="254.60" y="146.50" width="12.8" height="2.6" fill="rgba(203,15,49,0.28)"/>
<line x1="254.60" y1="147.80" x2="267.40" y2="147.80" stroke="#1e1e1e" stroke-width="1.15" />
<circle cx="226.60" cy="146.40" r="1.2" fill="#124c8e"/>
<circle cx="227.00" cy="147.80" r="1.2" fill="#124c8e"/>
<circle cx="226.40" cy="149.20" r="1.2" fill="#124c8e"/>
<circle cx="226.20" cy="150.60" r="1.2" fill="#124c8e"/>
<circle cx="244.60" cy="145.60" r="1.2" fill="#2fb44a"/>
<circle cx="244.00" cy="147.00" r="1.2" fill="#2fb44a"/>
<circle cx="243.60" cy="148.40" r="1.2" fill="#2fb44a"/>
<circle cx="243.20" cy="149.60" r="1.2" fill="#2fb44a"/>
<circle cx="261.40" cy="145.60" r="1.2" fill="#cb0f31"/>
<circle cx="262.00" cy="146.80" r="1.2" fill="#cb0f31"/>
<circle cx="261.00" cy="148.00" r="1.2" fill="#cb0f31"/>
<circle cx="260.80" cy="149.60" r="1.2" fill="#cb0f31"/>
<circle cx="261.60" cy="150.80" r="1.2" fill="#cb0f31"/>
<rect x="279.70" y="151.00" width="12.8" height="2.6" fill="rgba(18,76,142,0.28)"/>
<line x1="279.70" y1="152.30" x2="292.50" y2="152.30" stroke="#1e1e1e" stroke-width="1.15" />
<rect x="296.80" y="150.80" width="12.8" height="2.6" fill="rgba(47,180,74,0.28)"/>
<line x1="296.80" y1="152.10" x2="309.60" y2="152.10" stroke="#1e1e1e" stroke-width="1.15" />
<rect x="314.00" y="152.10" width="12.8" height="2.6" fill="rgba(203,15,49,0.28)"/>
<line x1="314.00" y1="153.40" x2="326.80" y2="153.40" stroke="#1e1e1e" stroke-width="1.15" />
<circle cx="286.80" cy="152.20" r="1.2" fill="#124c8e"/>
<circle cx="286.80" cy="152.60" r="1.2" fill="#124c8e"/>
<circle cx="302.80" cy="152.20" r="1.2" fill="#2fb44a"/>
<circle cx="303.80" cy="151.80" r="1.2" fill="#2fb44a"/>
<circle cx="304.80" cy="151.40" r="1.2" fill="#2fb44a"/>
<circle cx="303.40" cy="152.40" r="1.2" fill="#2fb44a"/>
<circle cx="319.60" cy="153.60" r="1.2" fill="#cb0f31"/>
<circle cx="320.60" cy="153.60" r="1.2" fill="#cb0f31"/>
<circle cx="321.60" cy="153.40" r="1.2" fill="#cb0f31"/>
<circle cx="320.80" cy="154.20" r="1.2" fill="#cb0f31"/>
<rect x="339.10" y="150.20" width="12.8" height="2.6" fill="rgba(18,76,142,0.28)"/>
<line x1="339.10" y1="151.50" x2="351.90" y2="151.50" stroke="#1e1e1e" stroke-width="1.15" />
<rect x="356.20" y="150.00" width="12.8" height="2.6" fill="rgba(47,180,74,0.28)"/>
<line x1="356.20" y1="151.30" x2="369.00" y2="151.30" stroke="#1e1e1e" stroke-width="1.15" />
<rect x="373.40" y="151.40" width="12.8" height="2.6" fill="rgba(203,15,49,0.28)"/>
<line x1="373.40" y1="152.70" x2="386.20" y2="152.70" stroke="#1e1e1e" stroke-width="1.15" />
<circle cx="346.20" cy="150.00" r="1.2" fill="#124c8e"/>
<circle cx="346.20" cy="151.60" r="1.2" fill="#124c8e"/>
<circle cx="346.00" cy="153.00" r="1.2" fill="#124c8e"/>
<circle cx="362.80" cy="150.80" r="1.2" fill="#2fb44a"/>
<circle cx="363.80" cy="151.00" r="1.2" fill="#2fb44a"/>
<circle cx="364.40" cy="151.80" r="1.2" fill="#2fb44a"/>
<circle cx="363.20" cy="152.20" r="1.2" fill="#2fb44a"/>
<circle cx="379.00" cy="152.60" r="1.2" fill="#cb0f31"/>
<circle cx="380.00" cy="151.40" r="1.2" fill="#cb0f31"/>
<circle cx="381.40" cy="151.80" r="1.2" fill="#cb0f31"/>
<circle cx="380.40" cy="153.60" r="1.2" fill="#cb0f31"/>
<circle cx="379.60" cy="154.40" r="1.2" fill="#cb0f31"/>
<rect x="398.50" y="150.40" width="12.8" height="2.6" fill="rgba(18,76,142,0.28)"/>
<line x1="398.50" y1="151.70" x2="411.30" y2="151.70" stroke="#1e1e1e" stroke-width="1.15" />
<rect x="415.60" y="149.50" width="12.8" height="2.6" fill="rgba(47,180,74,0.28)"/>
<line x1="415.60" y1="150.80" x2="428.40" y2="150.80" stroke="#1e1e1e" stroke-width="1.15" />
<rect x="432.80" y="150.20" width="12.8" height="2.6" fill="rgba(203,15,49,0.28)"/>
<line x1="432.80" y1="151.50" x2="445.60" y2="151.50" stroke="#1e1e1e" stroke-width="1.15" />
<circle cx="405.00" cy="150.40" r="1.2" fill="#124c8e"/>
<circle cx="405.20" cy="152.00" r="1.2" fill="#124c8e"/>
<circle cx="404.80" cy="153.00" r="1.2" fill="#124c8e"/>
<circle cx="421.60" cy="150.60" r="1.2" fill="#2fb44a"/>
<circle cx="422.60" cy="149.20" r="1.2" fill="#2fb44a"/>
<circle cx="423.60" cy="150.40" r="1.2" fill="#2fb44a"/>
<circle cx="422.40" cy="151.80" r="1.2" fill="#2fb44a"/>
<circle cx="421.80" cy="152.20" r="1.2" fill="#2fb44a"/>
<circle cx="440.60" cy="148.40" r="1.2" fill="#cb0f31"/>
<circle cx="439.60" cy="150.00" r="1.2" fill="#cb0f31"/>
<circle cx="439.00" cy="151.40" r="1.2" fill="#cb0f31"/>
<circle cx="438.60" cy="152.60" r="1.2" fill="#cb0f31"/>
<circle cx="439.40" cy="153.40" r="1.2" fill="#cb0f31"/>
<rect x="457.90" y="152.90" width="12.8" height="2.6" fill="rgba(18,76,142,0.28)"/>
<line x1="457.90" y1="154.20" x2="470.70" y2="154.20" stroke="#1e1e1e" stroke-width="1.15" />
<rect x="475.00" y="152.90" width="12.8" height="2.6" fill="rgba(47,180,74,0.28)"/>
<line x1="475.00" y1="154.20" x2="487.80" y2="154.20" stroke="#1e1e1e" stroke-width="1.15" />
<rect x="492.20" y="152.70" width="12.8" height="2.6" fill="rgba(203,15,49,0.28)"/>
<line x1="492.20" y1="154.00" x2="505.00" y2="154.00" stroke="#1e1e1e" stroke-width="1.15" />
<circle cx="464.60" cy="154.00" r="1.2" fill="#124c8e"/>
<circle cx="480.60" cy="154.00" r="1.2" fill="#2fb44a"/>
<circle cx="481.60" cy="154.20" r="1.2" fill="#2fb44a"/>
<circle cx="482.20" cy="154.00" r="1.2" fill="#2fb44a"/>
<circle cx="498.20" cy="154.40" r="1.2" fill="#cb0f31"/>
<circle cx="499.40" cy="153.60" r="1.2" fill="#cb0f31"/>
<circle cx="500.00" cy="152.60" r="1.2" fill="#cb0f31"/>
<path d="M65.50,26.40 V24.50 H83.50 V26.40" fill="none" stroke="#222" stroke-width="1.0"/>
<text x="74.20" y="20.90" font-size="5.9" fill="#1c1c1c" stroke="#1c1c1c" stroke-width="0.14" text-anchor="middle" font-weight="normal" font-style="italic" textLength="28.40" lengthAdjust="spacingAndGlyphs" >p=6.3e-05</text>
<path d="M48.50,36.40 V34.50 H83.50 V36.40" fill="none" stroke="#222" stroke-width="1.0"/>
<text x="65.60" y="32.50" font-size="5.9" fill="#1c1c1c" stroke="#1c1c1c" stroke-width="0.14" text-anchor="middle" font-weight="normal" font-style="italic" textLength="26.90" lengthAdjust="spacingAndGlyphs" >p=.00046</text>
<path d="M125.50,27.40 V25.50 H142.50 V27.40" fill="none" stroke="#222" stroke-width="1.0"/>
<text x="133.80" y="23.20" font-size="5.9" fill="#1c1c1c" stroke="#1c1c1c" stroke-width="0.14" text-anchor="middle" font-weight="normal" font-style="italic" textLength="28.60" lengthAdjust="spacingAndGlyphs" >p=6.3e-05</text>
<path d="M108.50,39.40 V37.50 H142.50 V39.40" fill="none" stroke="#222" stroke-width="1.0"/>
<text x="125.40" y="36.10" font-size="5.9" fill="#1c1c1c" stroke="#1c1c1c" stroke-width="0.14" text-anchor="middle" font-weight="normal" font-style="italic" textLength="27.00" lengthAdjust="spacingAndGlyphs" >p=.00046</text>
<path d="M108.50,50.40 V48.50 H125.50 V50.40" fill="none" stroke="#222" stroke-width="1.0"/>
<text x="116.70" y="46.00" font-size="5.9" fill="#1c1c1c" stroke="#1c1c1c" stroke-width="0.14" text-anchor="middle" font-weight="normal" font-style="italic" textLength="22.60" lengthAdjust="spacingAndGlyphs" >p=.0051</text>
<path d="M184.50,29.40 V27.50 H202.50 V29.40" fill="none" stroke="#222" stroke-width="1.0"/>
<text x="193.25" y="24.80" font-size="5.9" fill="#1c1c1c" stroke="#1c1c1c" stroke-width="0.14" text-anchor="middle" font-weight="normal" font-style="italic" textLength="27.10" lengthAdjust="spacingAndGlyphs" >p=.00013</text>
<path d="M167.50,40.40 V38.50 H202.50 V40.40" fill="none" stroke="#222" stroke-width="1.0"/>
<text x="184.75" y="36.90" font-size="5.9" fill="#1c1c1c" stroke="#1c1c1c" stroke-width="0.14" text-anchor="middle" font-weight="normal" font-style="italic" textLength="27.10" lengthAdjust="spacingAndGlyphs" >p=.00046</text>
<path d="M303.50,29.40 V27.50 H321.50 V29.40" fill="none" stroke="#222" stroke-width="1.0"/>
<text x="312.40" y="24.80" font-size="5.9" fill="#1c1c1c" stroke="#1c1c1c" stroke-width="0.14" text-anchor="middle" font-weight="normal" font-style="italic" textLength="29.00" lengthAdjust="spacingAndGlyphs" >p=6.3e-05</text>
<path d="M286.50,43.40 V41.50 H321.50 V43.40" fill="none" stroke="#222" stroke-width="1.0"/>
<text x="303.75" y="39.30" font-size="5.9" fill="#1c1c1c" stroke="#1c1c1c" stroke-width="0.14" text-anchor="middle" font-weight="normal" font-style="italic" textLength="27.30" lengthAdjust="spacingAndGlyphs" >p=.00046</text>
<path d="M345.50,34.40 V32.50 H380.50 V34.40" fill="none" stroke="#222" stroke-width="1.0"/>
<text x="362.85" y="29.60" font-size="5.9" fill="#1c1c1c" stroke="#1c1c1c" stroke-width="0.14" text-anchor="middle" font-weight="normal" font-style="italic" textLength="15.90" lengthAdjust="spacingAndGlyphs" >p=.04</text>
<path d="M65.50,101.40 V99.50 H83.50 V101.40" fill="none" stroke="#222" stroke-width="1.0"/>
<text x="74.45" y="97.40" font-size="5.9" fill="#1c1c1c" stroke="#1c1c1c" stroke-width="0.14" text-anchor="middle" font-weight="normal" font-style="italic" textLength="28.70" lengthAdjust="spacingAndGlyphs" >p=6.3e-05</text>
<path d="M48.50,111.40 V109.50 H83.50 V111.40" fill="none" stroke="#222" stroke-width="1.0"/>
<text x="65.35" y="107.10" font-size="5.9" fill="#1c1c1c" stroke="#1c1c1c" stroke-width="0.14" text-anchor="middle" font-weight="normal" font-style="italic" textLength="22.90" lengthAdjust="spacingAndGlyphs" >p=.0022</text>
<path d="M125.50,106.40 V104.50 H142.50 V106.40" fill="none" stroke="#222" stroke-width="1.0"/>
<text x="134.00" y="101.90" font-size="5.9" fill="#1c1c1c" stroke="#1c1c1c" stroke-width="0.14" text-anchor="middle" font-weight="normal" font-style="italic" textLength="28.20" lengthAdjust="spacingAndGlyphs" >p=6.3e-05</text>
<path d="M108.50,115.40 V113.50 H142.50 V115.40" fill="none" stroke="#222" stroke-width="1.0"/>
<text x="125.40" y="111.20" font-size="5.9" fill="#1c1c1c" stroke="#1c1c1c" stroke-width="0.14" text-anchor="middle" font-weight="normal" font-style="italic" textLength="23.60" lengthAdjust="spacingAndGlyphs" >p=.0015</text>
<path d="M107.50,126.40 V124.50 H125.50 V126.40" fill="none" stroke="#222" stroke-width="1.0"/>
<text x="116.70" y="122.90" font-size="5.9" fill="#1c1c1c" stroke="#1c1c1c" stroke-width="0.14" text-anchor="middle" font-weight="normal" font-style="italic" textLength="22.60" lengthAdjust="spacingAndGlyphs" >p=.0061</text>
<path d="M184.50,107.40 V105.50 H202.50 V107.40" fill="none" stroke="#222" stroke-width="1.0"/>
<text x="193.35" y="103.20" font-size="5.9" fill="#1c1c1c" stroke="#1c1c1c" stroke-width="0.14" text-anchor="middle" font-weight="normal" font-style="italic" textLength="23.70" lengthAdjust="spacingAndGlyphs" >p=.0037</text>
<path d="M167.50,118.40 V116.50 H202.50 V118.40" fill="none" stroke="#222" stroke-width="1.0"/>
<text x="184.70" y="114.10" font-size="5.9" fill="#1c1c1c" stroke="#1c1c1c" stroke-width="0.14" text-anchor="middle" font-weight="normal" font-style="italic" textLength="23.60" lengthAdjust="spacingAndGlyphs" >p=.0038</text>
<path d="M303.50,108.40 V106.50 H320.50 V108.40" fill="none" stroke="#222" stroke-width="1.0"/>
<text x="312.35" y="103.80" font-size="5.9" fill="#1c1c1c" stroke="#1c1c1c" stroke-width="0.14" text-anchor="middle" font-weight="normal" font-style="italic" textLength="27.50" lengthAdjust="spacingAndGlyphs" >p=.00056</text>
<path d="M286.50,119.40 V117.50 H320.50 V119.40" fill="none" stroke="#222" stroke-width="1.0"/>
<text x="303.95" y="115.60" font-size="5.9" fill="#1c1c1c" stroke="#1c1c1c" stroke-width="0.14" text-anchor="middle" font-weight="normal" font-style="italic" textLength="23.90" lengthAdjust="spacingAndGlyphs" >p=.0049</text>
<path d="M362.50,108.40 V106.50 H380.50 V108.40" fill="none" stroke="#222" stroke-width="1.0"/>
<text x="371.55" y="104.10" font-size="5.9" fill="#1c1c1c" stroke="#1c1c1c" stroke-width="0.14" text-anchor="middle" font-weight="normal" font-style="italic" textLength="27.10" lengthAdjust="spacingAndGlyphs" >p=.00057</text>
<path d="M345.50,119.40 V117.50 H380.50 V119.40" fill="none" stroke="#222" stroke-width="1.0"/>
<text x="362.85" y="115.50" font-size="5.9" fill="#1c1c1c" stroke="#1c1c1c" stroke-width="0.14" text-anchor="middle" font-weight="normal" font-style="italic" textLength="20.10" lengthAdjust="spacingAndGlyphs" >p=.017</text>
<line x1="38.20" y1="199.00" x2="38.20" y2="261.30" stroke="#1c1c1c" stroke-width="1.2" />
<line x1="37.70" y1="260.80" x2="89.50" y2="260.80" stroke="#1c1c1c" stroke-width="1.2" />
<line x1="40.40" y1="260.80" x2="40.40" y2="263.70" stroke="#1c1c1c" stroke-width="1.2" />
<text transform="translate(40.40,273.00) scale(0.905,1)" font-size="8.6" fill="#262626" stroke="#262626" stroke-width="0.1" text-anchor="middle" font-weight="normal" >0</text>
<line x1="55.50" y1="260.80" x2="55.50" y2="263.70" stroke="#1c1c1c" stroke-width="1.2" />
<text transform="translate(55.50,273.00) scale(0.905,1)" font-size="8.6" fill="#262626" stroke="#262626" stroke-width="0.1" text-anchor="middle" font-weight="normal" >20</text>
<line x1="70.60" y1="260.80" x2="70.60" y2="263.70" stroke="#1c1c1c" stroke-width="1.2" />
<text transform="translate(70.60,273.00) scale(0.905,1)" font-size="8.6" fill="#262626" stroke="#262626" stroke-width="0.1" text-anchor="middle" font-weight="normal" >40</text>
<line x1="85.70" y1="260.80" x2="85.70" y2="263.70" stroke="#1c1c1c" stroke-width="1.2" />
<text transform="translate(85.70,273.00) scale(0.905,1)" font-size="8.6" fill="#262626" stroke="#262626" stroke-width="0.1" text-anchor="middle" font-weight="normal" >60</text>
<line x1="97.60" y1="199.00" x2="97.60" y2="261.30" stroke="#1c1c1c" stroke-width="1.2" />
<line x1="97.10" y1="260.80" x2="148.90" y2="260.80" stroke="#1c1c1c" stroke-width="1.2" />
<line x1="99.80" y1="260.80" x2="99.80" y2="263.70" stroke="#1c1c1c" stroke-width="1.2" />
<text transform="translate(99.80,273.00) scale(0.905,1)" font-size="8.6" fill="#262626" stroke="#262626" stroke-width="0.1" text-anchor="middle" font-weight="normal" >0</text>
<line x1="114.90" y1="260.80" x2="114.90" y2="263.70" stroke="#1c1c1c" stroke-width="1.2" />
<text transform="translate(114.90,273.00) scale(0.905,1)" font-size="8.6" fill="#262626" stroke="#262626" stroke-width="0.1" text-anchor="middle" font-weight="normal" >20</text>
<line x1="130.00" y1="260.80" x2="130.00" y2="263.70" stroke="#1c1c1c" stroke-width="1.2" />
<text transform="translate(130.00,273.00) scale(0.905,1)" font-size="8.6" fill="#262626" stroke="#262626" stroke-width="0.1" text-anchor="middle" font-weight="normal" >40</text>
<line x1="145.10" y1="260.80" x2="145.10" y2="263.70" stroke="#1c1c1c" stroke-width="1.2" />
<text transform="translate(145.10,273.00) scale(0.905,1)" font-size="8.6" fill="#262626" stroke="#262626" stroke-width="0.1" text-anchor="middle" font-weight="normal" >60</text>
<line x1="157.00" y1="199.00" x2="157.00" y2="261.30" stroke="#1c1c1c" stroke-width="1.2" />
<line x1="156.50" y1="260.80" x2="208.30" y2="260.80" stroke="#1c1c1c" stroke-width="1.2" />
<line x1="159.20" y1="260.80" x2="159.20" y2="263.70" stroke="#1c1c1c" stroke-width="1.2" />
<text transform="translate(159.20,273.00) scale(0.905,1)" font-size="8.6" fill="#262626" stroke="#262626" stroke-width="0.1" text-anchor="middle" font-weight="normal" >0</text>
<line x1="174.30" y1="260.80" x2="174.30" y2="263.70" stroke="#1c1c1c" stroke-width="1.2" />
<text transform="translate(174.30,273.00) scale(0.905,1)" font-size="8.6" fill="#262626" stroke="#262626" stroke-width="0.1" text-anchor="middle" font-weight="normal" >20</text>
<line x1="189.40" y1="260.80" x2="189.40" y2="263.70" stroke="#1c1c1c" stroke-width="1.2" />
<text transform="translate(189.40,273.00) scale(0.905,1)" font-size="8.6" fill="#262626" stroke="#262626" stroke-width="0.1" text-anchor="middle" font-weight="normal" >40</text>
<line x1="204.50" y1="260.80" x2="204.50" y2="263.70" stroke="#1c1c1c" stroke-width="1.2" />
<text transform="translate(204.50,273.00) scale(0.905,1)" font-size="8.6" fill="#262626" stroke="#262626" stroke-width="0.1" text-anchor="middle" font-weight="normal" >60</text>
<line x1="216.40" y1="199.00" x2="216.40" y2="261.30" stroke="#1c1c1c" stroke-width="1.2" />
<line x1="215.90" y1="260.80" x2="267.70" y2="260.80" stroke="#1c1c1c" stroke-width="1.2" />
<line x1="218.60" y1="260.80" x2="218.60" y2="263.70" stroke="#1c1c1c" stroke-width="1.2" />
<text transform="translate(218.60,273.00) scale(0.905,1)" font-size="8.6" fill="#262626" stroke="#262626" stroke-width="0.1" text-anchor="middle" font-weight="normal" >0</text>
<line x1="233.70" y1="260.80" x2="233.70" y2="263.70" stroke="#1c1c1c" stroke-width="1.2" />
<text transform="translate(233.70,273.00) scale(0.905,1)" font-size="8.6" fill="#262626" stroke="#262626" stroke-width="0.1" text-anchor="middle" font-weight="normal" >20</text>
<line x1="248.80" y1="260.80" x2="248.80" y2="263.70" stroke="#1c1c1c" stroke-width="1.2" />
<text transform="translate(248.80,273.00) scale(0.905,1)" font-size="8.6" fill="#262626" stroke="#262626" stroke-width="0.1" text-anchor="middle" font-weight="normal" >40</text>
<line x1="263.90" y1="260.80" x2="263.90" y2="263.70" stroke="#1c1c1c" stroke-width="1.2" />
<text transform="translate(263.90,273.00) scale(0.905,1)" font-size="8.6" fill="#262626" stroke="#262626" stroke-width="0.1" text-anchor="middle" font-weight="normal" >60</text>
<line x1="275.80" y1="199.00" x2="275.80" y2="261.30" stroke="#1c1c1c" stroke-width="1.2" />
<line x1="275.30" y1="260.80" x2="327.10" y2="260.80" stroke="#1c1c1c" stroke-width="1.2" />
<line x1="278.00" y1="260.80" x2="278.00" y2="263.70" stroke="#1c1c1c" stroke-width="1.2" />
<text transform="translate(278.00,273.00) scale(0.905,1)" font-size="8.6" fill="#262626" stroke="#262626" stroke-width="0.1" text-anchor="middle" font-weight="normal" >0</text>
<line x1="293.10" y1="260.80" x2="293.10" y2="263.70" stroke="#1c1c1c" stroke-width="1.2" />
<text transform="translate(293.10,273.00) scale(0.905,1)" font-size="8.6" fill="#262626" stroke="#262626" stroke-width="0.1" text-anchor="middle" font-weight="normal" >20</text>
<line x1="308.20" y1="260.80" x2="308.20" y2="263.70" stroke="#1c1c1c" stroke-width="1.2" />
<text transform="translate(308.20,273.00) scale(0.905,1)" font-size="8.6" fill="#262626" stroke="#262626" stroke-width="0.1" text-anchor="middle" font-weight="normal" >40</text>
<line x1="323.30" y1="260.80" x2="323.30" y2="263.70" stroke="#1c1c1c" stroke-width="1.2" />
<text transform="translate(323.30,273.00) scale(0.905,1)" font-size="8.6" fill="#262626" stroke="#262626" stroke-width="0.1" text-anchor="middle" font-weight="normal" >60</text>
<line x1="335.20" y1="199.00" x2="335.20" y2="261.30" stroke="#1c1c1c" stroke-width="1.2" />
<line x1="334.70" y1="260.80" x2="386.50" y2="260.80" stroke="#1c1c1c" stroke-width="1.2" />
<line x1="337.40" y1="260.80" x2="337.40" y2="263.70" stroke="#1c1c1c" stroke-width="1.2" />
<text transform="translate(337.40,273.00) scale(0.905,1)" font-size="8.6" fill="#262626" stroke="#262626" stroke-width="0.1" text-anchor="middle" font-weight="normal" >0</text>
<line x1="352.50" y1="260.80" x2="352.50" y2="263.70" stroke="#1c1c1c" stroke-width="1.2" />
<text transform="translate(352.50,273.00) scale(0.905,1)" font-size="8.6" fill="#262626" stroke="#262626" stroke-width="0.1" text-anchor="middle" font-weight="normal" >20</text>
<line x1="367.60" y1="260.80" x2="367.60" y2="263.70" stroke="#1c1c1c" stroke-width="1.2" />
<text transform="translate(367.60,273.00) scale(0.905,1)" font-size="8.6" fill="#262626" stroke="#262626" stroke-width="0.1" text-anchor="middle" font-weight="normal" >40</text>
<line x1="382.70" y1="260.80" x2="382.70" y2="263.70" stroke="#1c1c1c" stroke-width="1.2" />
<text transform="translate(382.70,273.00) scale(0.905,1)" font-size="8.6" fill="#262626" stroke="#262626" stroke-width="0.1" text-anchor="middle" font-weight="normal" >60</text>
<line x1="394.60" y1="199.00" x2="394.60" y2="261.30" stroke="#1c1c1c" stroke-width="1.2" />
<line x1="394.10" y1="260.80" x2="445.90" y2="260.80" stroke="#1c1c1c" stroke-width="1.2" />
<line x1="396.80" y1="260.80" x2="396.80" y2="263.70" stroke="#1c1c1c" stroke-width="1.2" />
<text transform="translate(396.80,273.00) scale(0.905,1)" font-size="8.6" fill="#262626" stroke="#262626" stroke-width="0.1" text-anchor="middle" font-weight="normal" >0</text>
<line x1="411.90" y1="260.80" x2="411.90" y2="263.70" stroke="#1c1c1c" stroke-width="1.2" />
<text transform="translate(411.90,273.00) scale(0.905,1)" font-size="8.6" fill="#262626" stroke="#262626" stroke-width="0.1" text-anchor="middle" font-weight="normal" >20</text>
<line x1="427.00" y1="260.80" x2="427.00" y2="263.70" stroke="#1c1c1c" stroke-width="1.2" />
<text transform="translate(427.00,273.00) scale(0.905,1)" font-size="8.6" fill="#262626" stroke="#262626" stroke-width="0.1" text-anchor="middle" font-weight="normal" >40</text>
<line x1="442.10" y1="260.80" x2="442.10" y2="263.70" stroke="#1c1c1c" stroke-width="1.2" />
<text transform="translate(442.10,273.00) scale(0.905,1)" font-size="8.6" fill="#262626" stroke="#262626" stroke-width="0.1" text-anchor="middle" font-weight="normal" >60</text>
<line x1="454.00" y1="199.00" x2="454.00" y2="261.30" stroke="#1c1c1c" stroke-width="1.2" />
<line x1="453.50" y1="260.80" x2="505.30" y2="260.80" stroke="#1c1c1c" stroke-width="1.2" />
<line x1="456.20" y1="260.80" x2="456.20" y2="263.70" stroke="#1c1c1c" stroke-width="1.2" />
<text transform="translate(456.20,273.00) scale(0.905,1)" font-size="8.6" fill="#262626" stroke="#262626" stroke-width="0.1" text-anchor="middle" font-weight="normal" >0</text>
<line x1="471.30" y1="260.80" x2="471.30" y2="263.70" stroke="#1c1c1c" stroke-width="1.2" />
<text transform="translate(471.30,273.00) scale(0.905,1)" font-size="8.6" fill="#262626" stroke="#262626" stroke-width="0.1" text-anchor="middle" font-weight="normal" >20</text>
<line x1="486.40" y1="260.80" x2="486.40" y2="263.70" stroke="#1c1c1c" stroke-width="1.2" />
<text transform="translate(486.40,273.00) scale(0.905,1)" font-size="8.6" fill="#262626" stroke="#262626" stroke-width="0.1" text-anchor="middle" font-weight="normal" >40</text>
<line x1="501.50" y1="260.80" x2="501.50" y2="263.70" stroke="#1c1c1c" stroke-width="1.2" />
<text transform="translate(501.50,273.00) scale(0.905,1)" font-size="8.6" fill="#262626" stroke="#262626" stroke-width="0.1" text-anchor="middle" font-weight="normal" >60</text>
<line x1="35.10" y1="257.70" x2="38.20" y2="257.70" stroke="#1c1c1c" stroke-width="1.2" />
<text transform="translate(31.90,260.75) scale(0.905,1)" font-size="8.6" fill="#262626" stroke="#262626" stroke-width="0.1" text-anchor="end" font-weight="normal" >0</text>
<line x1="35.10" y1="244.04" x2="38.20" y2="244.04" stroke="#1c1c1c" stroke-width="1.2" />
<text transform="translate(31.90,247.09) scale(0.905,1)" font-size="8.6" fill="#262626" stroke="#262626" stroke-width="0.1" text-anchor="end" font-weight="normal" >25</text>
<line x1="35.10" y1="230.38" x2="38.20" y2="230.38" stroke="#1c1c1c" stroke-width="1.2" />
<text transform="translate(31.90,233.43) scale(0.905,1)" font-size="8.6" fill="#262626" stroke="#262626" stroke-width="0.1" text-anchor="end" font-weight="normal" >50</text>
<line x1="35.10" y1="216.72" x2="38.20" y2="216.72" stroke="#1c1c1c" stroke-width="1.2" />
<text transform="translate(31.90,219.77) scale(0.905,1)" font-size="8.6" fill="#262626" stroke="#262626" stroke-width="0.1" text-anchor="end" font-weight="normal" >75</text>
<line x1="35.10" y1="203.06" x2="38.20" y2="203.06" stroke="#1c1c1c" stroke-width="1.2" />
<text transform="translate(31.90,206.11) scale(0.905,1)" font-size="8.6" fill="#262626" stroke="#262626" stroke-width="0.1" text-anchor="end" font-weight="normal" >100</text>
<text x="41.20" y="205.9" font-size="6.4" fill="#222" stroke="#222" stroke-width="0.14" font-style="italic">R<tspan font-size="4.2" dy="-2.6">2</tspan><tspan dy="2.6"> = 0.59</tspan></text>
<text x="41.20" y="212.6" font-size="6.4" fill="#222" stroke="#222" stroke-width="0.14" font-style="italic">p = 1.8e−05</text>
<text x="100.60" y="205.9" font-size="6.4" fill="#222" stroke="#222" stroke-width="0.14" font-style="italic">R<tspan font-size="4.2" dy="-2.6">2</tspan><tspan dy="2.6"> = 0.6</tspan></text>
<text x="100.60" y="212.6" font-size="6.4" fill="#222" stroke="#222" stroke-width="0.14" font-style="italic">p = 3.2e−05</text>
<text x="160.00" y="205.9" font-size="6.4" fill="#222" stroke="#222" stroke-width="0.14" font-style="italic">R<tspan font-size="4.2" dy="-2.6">2</tspan><tspan dy="2.6"> = 0.51</tspan></text>
<text x="160.00" y="212.6" font-size="6.4" fill="#222" stroke="#222" stroke-width="0.14" font-style="italic">p = .00013</text>
<text x="219.40" y="205.9" font-size="6.4" fill="#222" stroke="#222" stroke-width="0.14" font-style="italic">R<tspan font-size="4.2" dy="-2.6">2</tspan><tspan dy="2.6"> = 0.019</tspan></text>
<text x="219.40" y="212.6" font-size="6.4" fill="#222" stroke="#222" stroke-width="0.14" font-style="italic">p = .53</text>
<text x="278.80" y="205.9" font-size="6.4" fill="#222" stroke="#222" stroke-width="0.14" font-style="italic">R<tspan font-size="4.2" dy="-2.6">2</tspan><tspan dy="2.6"> = 0.83</tspan></text>
<text x="278.80" y="212.6" font-size="6.4" fill="#222" stroke="#222" stroke-width="0.14" font-style="italic">p = 4.8e−09</text>
<text x="338.20" y="205.9" font-size="6.4" fill="#222" stroke="#222" stroke-width="0.14" font-style="italic">R<tspan font-size="4.2" dy="-2.6">2</tspan><tspan dy="2.6"> = 0.16</tspan></text>
<text x="338.20" y="212.6" font-size="6.4" fill="#222" stroke="#222" stroke-width="0.14" font-style="italic">p = .061</text>
<text x="397.60" y="205.9" font-size="6.4" fill="#222" stroke="#222" stroke-width="0.14" font-style="italic">R<tspan font-size="4.2" dy="-2.6">2</tspan><tspan dy="2.6"> = 0.37</tspan></text>
<text x="397.60" y="212.6" font-size="6.4" fill="#222" stroke="#222" stroke-width="0.14" font-style="italic">p = .0022</text>
<text x="457.00" y="205.9" font-size="6.4" fill="#222" stroke="#222" stroke-width="0.14" font-style="italic">R<tspan font-size="4.2" dy="-2.6">2</tspan><tspan dy="2.6"> = 0.055</tspan></text>
<text x="457.00" y="212.6" font-size="6.4" fill="#222" stroke="#222" stroke-width="0.14" font-style="italic">p = .28</text>
<path d="M46.20,248.00 L60.60,232.80 L75.40,215.60 L75.40,223.20 L62.20,238.00 L48.80,254.00 Z" fill="rgba(150,185,215,0.5)" stroke="none"/>
<line x1="47.70" y1="250.80" x2="73.90" y2="219.80" stroke="#000" stroke-width="1.3" />
<circle cx="48.60" cy="249.40" r="1.2" fill="#124c8e"/>
<circle cx="47.40" cy="250.40" r="1.2" fill="#124c8e"/>
<circle cx="49.60" cy="251.20" r="1.2" fill="#124c8e"/>
<circle cx="52.40" cy="250.80" r="1.2" fill="#124c8e"/>
<circle cx="48.20" cy="251.80" r="1.2" fill="#124c8e"/>
<circle cx="50.20" cy="249.80" r="1.2" fill="#124c8e"/>
<circle cx="49.40" cy="248.60" r="1.2" fill="#2fb44a"/>
<circle cx="52.60" cy="249.20" r="1.2" fill="#2fb44a"/>
<circle cx="51.00" cy="249.60" r="1.2" fill="#2fb44a"/>
<circle cx="68.60" cy="214.90" r="1.2" fill="#cb0f31"/>
<circle cx="69.00" cy="216.50" r="1.2" fill="#cb0f31"/>
<circle cx="71.10" cy="218.20" r="1.2" fill="#cb0f31"/>
<circle cx="70.10" cy="220.10" r="1.2" fill="#cb0f31"/>
<circle cx="74.70" cy="219.00" r="1.2" fill="#cb0f31"/>
<circle cx="62.90" cy="226.30" r="1.2" fill="#cb0f31"/>
<circle cx="64.90" cy="233.70" r="1.2" fill="#cb0f31"/>
<circle cx="70.10" cy="234.80" r="1.2" fill="#cb0f31"/>
<circle cx="73.40" cy="235.30" r="1.2" fill="#cb0f31"/>
<circle cx="69.80" cy="240.70" r="1.2" fill="#cb0f31"/>
<path d="M105.20,249.60 L118.00,237.20 L130.80,220.40 L130.80,236.00 L118.80,243.60 L107.00,258.00 Z" fill="rgba(150,185,215,0.5)" stroke="none"/>
<line x1="106.10" y1="254.20" x2="130.60" y2="229.40" stroke="#000" stroke-width="1.3" />
<circle cx="115.50" cy="229.40" r="1.2" fill="#cb0f31"/>
<circle cx="117.50" cy="230.20" r="1.2" fill="#cb0f31"/>
<circle cx="116.80" cy="231.50" r="1.2" fill="#cb0f31"/>
<circle cx="119.50" cy="233.30" r="1.2" fill="#cb0f31"/>
<circle cx="115.00" cy="237.30" r="1.2" fill="#cb0f31"/>
<circle cx="122.50" cy="238.00" r="1.2" fill="#cb0f31"/>
<circle cx="123.50" cy="239.20" r="1.2" fill="#cb0f31"/>
<circle cx="131.00" cy="244.70" r="1.2" fill="#cb0f31"/>
<circle cx="119.20" cy="247.80" r="1.2" fill="#cb0f31"/>
<circle cx="113.00" cy="249.80" r="1.2" fill="#2fb44a"/>
<circle cx="112.00" cy="250.60" r="1.2" fill="#2fb44a"/>
<circle cx="109.50" cy="252.50" r="1.2" fill="#2fb44a"/>
<circle cx="108.50" cy="253.80" r="1.2" fill="#2fb44a"/>
<circle cx="110.20" cy="254.40" r="1.2" fill="#2fb44a"/>
<circle cx="106.30" cy="256.50" r="1.2" fill="#124c8e"/>
<circle cx="107.80" cy="257.50" r="1.2" fill="#124c8e"/>
<circle cx="106.50" cy="258.20" r="1.2" fill="#124c8e"/>
<circle cx="105.40" cy="257.40" r="1.2" fill="#124c8e"/>
<path d="M162.00,256.40 L174.00,255.40 L186.80,253.60 L186.80,256.00 L174.00,256.60 L162.00,258.30 Z" fill="rgba(150,185,215,0.5)" stroke="none"/>
<circle cx="162.80" cy="257.30" r="1.2" fill="#124c8e"/>
<circle cx="164.00" cy="257.60" r="1.2" fill="#124c8e"/>
<circle cx="165.20" cy="257.20" r="1.2" fill="#124c8e"/>
<circle cx="166.40" cy="257.40" r="1.2" fill="#124c8e"/>
<circle cx="163.60" cy="256.80" r="1.2" fill="#124c8e"/>
<circle cx="167.00" cy="257.00" r="1.2" fill="#124c8e"/>
<circle cx="169.60" cy="256.40" r="1.2" fill="#2fb44a"/>
<circle cx="171.00" cy="256.80" r="1.2" fill="#2fb44a"/>
<line x1="162.50" y1="257.30" x2="186.10" y2="254.80" stroke="#000" stroke-width="1.2" />
<circle cx="172.50" cy="256.60" r="1.2" fill="#cb0f31"/>
<circle cx="173.60" cy="255.20" r="1.2" fill="#cb0f31"/>
<circle cx="175.40" cy="255.60" r="1.2" fill="#cb0f31"/>
<circle cx="176.80" cy="252.40" r="1.2" fill="#cb0f31"/>
<circle cx="178.20" cy="256.00" r="1.2" fill="#cb0f31"/>
<circle cx="180.00" cy="255.00" r="1.2" fill="#cb0f31"/>
<circle cx="182.40" cy="257.00" r="1.2" fill="#cb0f31"/>
<circle cx="186.40" cy="255.00" r="1.2" fill="#cb0f31"/>
<circle cx="174.40" cy="257.20" r="1.2" fill="#cb0f31"/>
<line x1="228.60" y1="251.40" x2="234.40" y2="251.00" stroke="#000" stroke-width="1.2" />
<circle cx="232.20" cy="251.80" r="1.2" fill="#124c8e"/>
<circle cx="232.60" cy="253.20" r="1.2" fill="#124c8e"/>
<circle cx="232.80" cy="254.60" r="1.2" fill="#124c8e"/>
<circle cx="231.80" cy="252.80" r="1.2" fill="#124c8e"/>
<circle cx="227.80" cy="251.90" r="1.2" fill="#cb0f31"/>
<circle cx="229.80" cy="250.60" r="1.2" fill="#cb0f31"/>
<circle cx="232.20" cy="249.40" r="1.2" fill="#cb0f31"/>
<circle cx="234.20" cy="250.40" r="1.2" fill="#cb0f31"/>
<circle cx="233.40" cy="251.20" r="1.2" fill="#cb0f31"/>
<line x1="280.00" y1="257.80" x2="291.20" y2="254.40" stroke="#000" stroke-width="1.3" />
<circle cx="280.40" cy="257.40" r="1.2" fill="#cb0f31"/>
<circle cx="281.80" cy="257.00" r="1.2" fill="#cb0f31"/>
<circle cx="283.20" cy="256.60" r="1.2" fill="#cb0f31"/>
<circle cx="284.60" cy="256.80" r="1.2" fill="#cb0f31"/>
<circle cx="282.20" cy="257.60" r="1.2" fill="#cb0f31"/>
<circle cx="286.00" cy="255.00" r="1.2" fill="#2fb44a"/>
<circle cx="287.40" cy="254.40" r="1.2" fill="#2fb44a"/>
<circle cx="288.80" cy="254.00" r="1.2" fill="#2fb44a"/>
<circle cx="287.60" cy="255.80" r="1.2" fill="#124c8e"/>
<circle cx="289.20" cy="255.00" r="1.2" fill="#124c8e"/>
<circle cx="290.60" cy="254.40" r="1.2" fill="#124c8e"/>
<circle cx="288.40" cy="256.20" r="1.2" fill="#124c8e"/>
<circle cx="337.40" cy="253.40" r="1.2" fill="#2fb44a"/>
<circle cx="336.60" cy="255.40" r="1.2" fill="#cb0f31"/>
<circle cx="337.20" cy="257.00" r="1.2" fill="#cb0f31"/>
<circle cx="338.80" cy="256.60" r="1.2" fill="#cb0f31"/>
<circle cx="340.40" cy="256.80" r="1.2" fill="#cb0f31"/>
<circle cx="345.00" cy="255.40" r="1.2" fill="#cb0f31"/>
<circle cx="342.00" cy="255.60" r="1.2" fill="#124c8e"/>
<circle cx="343.20" cy="254.00" r="1.2" fill="#124c8e"/>
<circle cx="344.00" cy="255.60" r="1.2" fill="#124c8e"/>
<circle cx="342.80" cy="256.80" r="1.2" fill="#124c8e"/>
<line x1="336.80" y1="256.40" x2="345.40" y2="254.80" stroke="#000" stroke-width="1.2" />
<circle cx="398.00" cy="254.20" r="1.2" fill="#2fb44a"/>
<circle cx="400.20" cy="252.10" r="1.2" fill="#cb0f31"/>
<circle cx="398.50" cy="256.60" r="1.2" fill="#cb0f31"/>
<circle cx="399.00" cy="256.40" r="1.2" fill="#124c8e"/>
<circle cx="399.80" cy="255.20" r="1.2" fill="#124c8e"/>
<circle cx="400.80" cy="254.40" r="1.2" fill="#124c8e"/>
<circle cx="401.40" cy="253.80" r="1.2" fill="#124c8e"/>
<line x1="398.60" y1="256.20" x2="401.60" y2="253.00" stroke="#000" stroke-width="1.2" />
<circle cx="455.80" cy="257.60" r="1.2" fill="#124c8e"/>
<circle cx="456.80" cy="257.40" r="1.2" fill="#124c8e"/>
<circle cx="457.80" cy="257.20" r="1.2" fill="#124c8e"/>
<circle cx="459.20" cy="257.00" r="1.2" fill="#2fb44a"/>
<line x1="455.40" y1="257.60" x2="459.60" y2="257.00" stroke="#000" stroke-width="1.2" />
<text x="271.70" y="285.00" font-size="8.6" fill="#111" stroke="#111" stroke-width="0.3" text-anchor="middle" font-weight="normal" textLength="47.80" lengthAdjust="spacingAndGlyphs" >PET ROI (%ID/g)</text>
<text x="225.30" y="297.60" font-size="6.7" fill="#111" stroke="#111" stroke-width="0.15" text-anchor="start" font-weight="normal" textLength="18.70" lengthAdjust="spacingAndGlyphs" >Group</text>
<circle cx="251.30" cy="296.10" r="1.3" fill="#124c8e"/>
<text x="255.80" y="297.60" font-size="6.7" fill="#111" stroke="#111" stroke-width="0.15" text-anchor="start" font-weight="normal" textLength="10.20" lengthAdjust="spacingAndGlyphs" >TBI</text>
<circle cx="273.50" cy="296.10" r="1.3" fill="#2fb44a"/>
<text x="277.70" y="297.60" font-size="6.7" fill="#111" stroke="#111" stroke-width="0.15" text-anchor="start" font-weight="normal" textLength="10.60" lengthAdjust="spacingAndGlyphs" >BM</text>
<circle cx="295.00" cy="296.10" r="1.3" fill="#cb0f31"/>
<text x="298.80" y="297.60" font-size="6.7" fill="#111" stroke="#111" stroke-width="0.15" text-anchor="start" font-weight="normal" textLength="19.20" lengthAdjust="spacingAndGlyphs" >GvHD</text>
</svg>
</body></html>
